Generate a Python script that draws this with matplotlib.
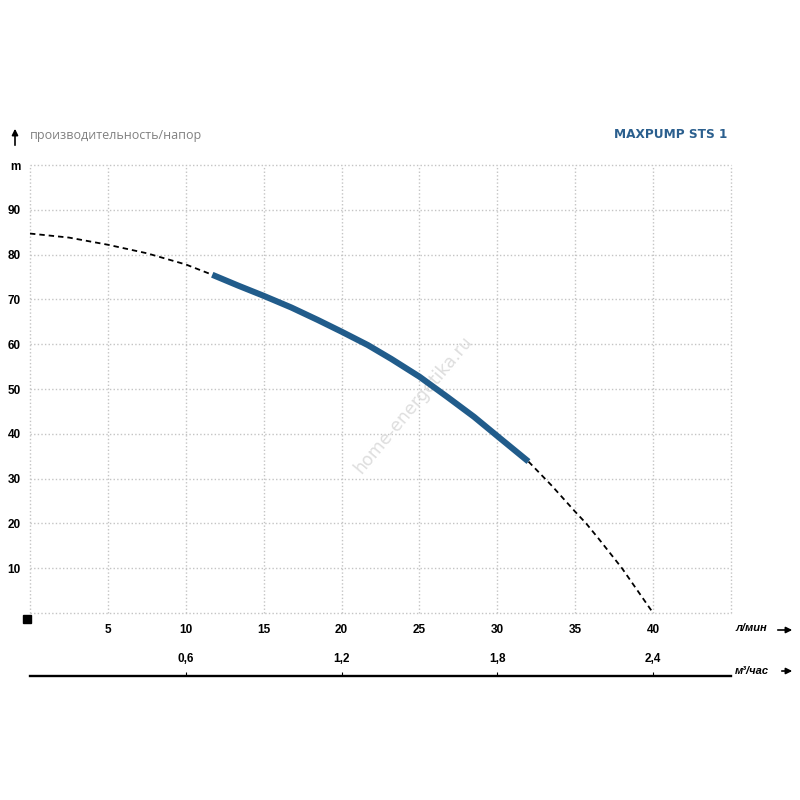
import matplotlib
matplotlib.use("Agg")
import matplotlib.pyplot as plt

# ---- data ----
flow_lpm = [0, 2.5, 5, 7.5, 10, 11.7, 13.35, 15, 16.77, 18.48, 20, 21.69, 23.2, 25,
            26.8, 28.5, 30, 32, 33.5, 35, 35.7, 36.5, 38, 39, 40]
head_m = [84.7, 83.8, 82.2, 80.3, 77.8, 75.5, 73.1, 70.8, 68.2, 65.4, 62.8, 59.8,
          56.7, 52.75, 48.2, 43.8, 39.5, 33.8, 28.4, 22.6, 20.0, 16.6, 10.0, 5.0, 0.0]
work_min, work_max = 11.7, 32.0

x_ticks = [5, 10, 15, 20, 25, 30, 35, 40]
x_ticklabels = ["5", "10", "15", "20", "25", "30", "35", "40"]
y_ticks = [10, 20, 30, 40, 50, 60, 70, 80, 90, 100]
y_ticklabels = ["10", "20", "30", "40", "50", "60", "70", "80", "90", "m"]
m3h_ticks = [0.6, 1.2, 1.8, 2.4]
m3h_ticklabels = ["0,6", "1,2", "1,8", "2,4"]

title_left = "производительность/напор"
title_right = "MAXPUMP STS 1"
unit_lpm = "л/мин"
unit_m3h = "м³/час"
watermark = "home-energetika.ru"

BLUE = "#215c8b"
W = H = 800.0

def fx(px):
    return px / W

def fy(py):
    return 1 - py / H

fig = plt.figure(figsize=(8, 8), dpi=100)
fig.patch.set_facecolor("white")

ax = fig.add_axes([fx(30), fy(613), (731 - 30) / W, (613 - 165) / H])
ax.set_xlim(0, 45)
ax.set_ylim(0, 100)
for s in ax.spines.values():
    s.set_visible(False)

grid_kw = dict(color="#c4c4c4", lw=1.0, linestyle=(0, (1, 1.6)), zorder=0, clip_on=False)
for gx in [0, 5, 10, 15, 20, 25, 30, 35, 40, 45]:
    ax.axvline(gx, **grid_kw)
for gy in [0, 10, 20, 30, 40, 50, 60, 70, 80, 90, 100]:
    ax.axhline(gy, **grid_kw)

tick_font = dict(fontfamily="Liberation Sans", fontweight="bold", fontsize=8.5)
ax.set_xticks(x_ticks)
ax.set_xticklabels(x_ticklabels, **tick_font)
ax.set_yticks(y_ticks)
ax.set_yticklabels(y_ticklabels, **tick_font)
ax.tick_params(axis="both", length=0)
ax.tick_params(axis="x", pad=8)
ax.tick_params(axis="y", pad=6.5)

# curve segments
lx = [x for x in flow_lpm if x <= work_min]
ly = [y for x, y in zip(flow_lpm, head_m) if x <= work_min]
mx = [x for x in flow_lpm if work_min <= x <= work_max]
my = [y for x, y in zip(flow_lpm, head_m) if work_min <= x <= work_max]
rx = [x for x in flow_lpm if x >= work_max]
ry = [y for x, y in zip(flow_lpm, head_m) if x >= work_max]
dash_kw = dict(color="black", lw=1.3, linestyle=(0, (3, 2.2)), zorder=3)
ax.plot(lx, ly, **dash_kw)
ax.plot(rx, ry, **dash_kw)
ax.plot(mx, my, color=BLUE, lw=4.4, solid_capstyle="butt", solid_joinstyle="round", zorder=4)

# black square at origin
ax.plot([-0.0043], [-0.0145], marker="s", markersize=5.5, color="black",
        transform=ax.transAxes, clip_on=False)

# watermark
ax.text(0.547, 0.465, watermark, transform=ax.transAxes, rotation=50,
        ha="center", va="center", fontsize=12.5, color="#dedede",
        fontfamily="DejaVu Sans", zorder=2)

# second (m3/h) axis
ax2 = fig.add_axes([fx(30), fy(676), (731 - 30) / W, 0.0005])
ax2.set_xlim(0, 45 * 0.06)
ax2.set_yticks([])
for k in ["left", "right", "top"]:
    ax2.spines[k].set_visible(False)
ax2.spines["bottom"].set_linewidth(1.7)
ax2.set_xticks(m3h_ticks)
ax2.set_xticklabels(m3h_ticklabels, **tick_font)
ax2.tick_params(axis="x", bottom=False, labelbottom=False, top=True, labeltop=True,
                direction="out", length=3, width=0.8, pad=4.5, colors="black")
ax2.patch.set_alpha(0)

# texts
fig.text(fx(30), fy(135), title_left, ha="left", va="center", fontsize=9,
         color="#808080", fontfamily="Open Sans")
fig.text(fx(727), fy(134), title_right, ha="right", va="center", fontsize=8.7,
         color="#2b5f8e", fontweight="bold", fontfamily="DejaVu Sans")

fig.text(fx(735), fy(628), unit_lpm, ha="left", va="center", fontsize=8,
         style="italic", fontweight="bold", fontfamily="Liberation Sans")
fig.text(fx(735), fy(671), unit_m3h, ha="left", va="center", fontsize=8,
         style="italic", fontweight="bold", fontfamily="Liberation Sans")

arrow_kw = dict(arrowstyle="-|>", color="black", lw=1.2, mutation_scale=9)
fig.add_artist(matplotlib.patches.FancyArrowPatch((fx(775), fy(630)), (fx(795), fy(630)),
                                                  transform=fig.transFigure, **arrow_kw))
fig.add_artist(matplotlib.patches.FancyArrowPatch((fx(779), fy(671)), (fx(795), fy(671)),
                                                  transform=fig.transFigure, **arrow_kw))
fig.add_artist(matplotlib.patches.FancyArrowPatch((fx(15), fy(148)), (fx(15), fy(126)),
                                                  transform=fig.transFigure, **arrow_kw))

fig.savefig("out.png", dpi=100, facecolor="white")
